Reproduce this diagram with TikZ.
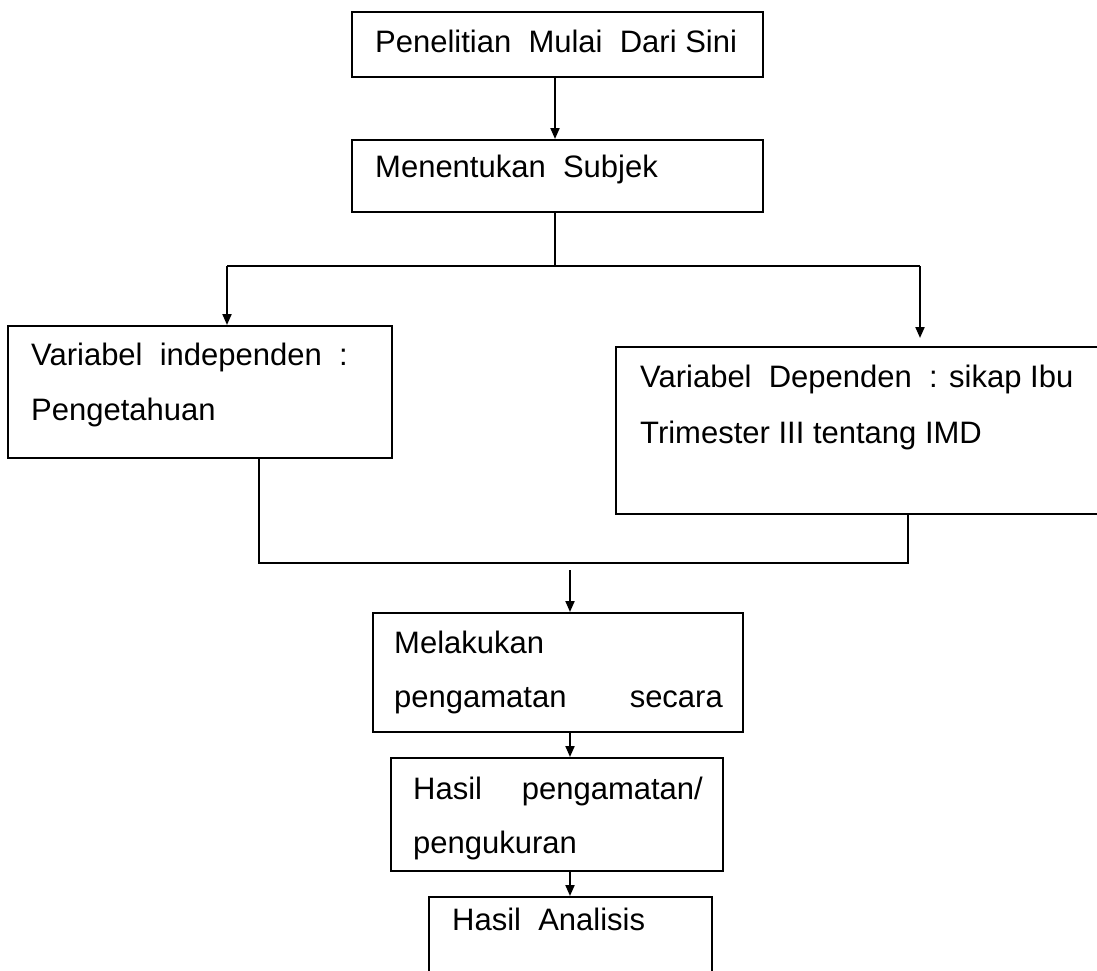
\documentclass[tikz,border=0pt]{standalone}
\usepackage{fontspec}
\setmainfont{Liberation Sans}
\usetikzlibrary{arrows.meta}
\begin{document}
\begin{tikzpicture}[x=1pt,y=-1pt,
  box/.style={draw,line width=2pt,rectangle,inner sep=0pt},
  lbl/.style={anchor=base west,inner sep=0pt,font=\fontsize{31}{31}\selectfont},
  ln/.style={line width=2pt},
  arr/.style={line width=2pt,-{Triangle[length=11pt,width=9pt]}}]
\useasboundingbox (0,0) rectangle (1097,970);
\clip (0,0) rectangle (1097,970);
% boxes
\node[box,minimum width=411pt,minimum height=65pt] (b1) at (557.5,44.5) {};
\node[box,minimum width=411pt,minimum height=72pt] (b2) at (557.5,176) {};
\node[box,minimum width=384pt,minimum height=132pt] (lb) at (200,392) {};
\node[box,minimum width=500pt,minimum height=167pt] (rb) at (866,430.5) {};
\node[box,minimum width=370pt,minimum height=119pt] (b4) at (558,672.5) {};
\node[box,minimum width=332pt,minimum height=113pt] (b5) at (557,814.5) {};
\node[box,minimum width=283pt,minimum height=140pt] (b6) at (570.5,967) {};
% texts
\node[lbl] (t1) at (375,52) {Penelitian\ \ Mulai\ \ Dari Sini};
\node[lbl] (t2) at (375,177) {Menentukan\ \ Subjek};
\node[lbl] (t3a) at (31,365) {Variabel\ \ independen\ \ :};
\node[lbl] (t3b) at (31,420) {Pengetahuan};
\node[lbl] (t4a) at (640,387) {Variabel\ \ Dependen\ \ : sikap Ibu};
\node[lbl] (t4b) at (640,443) {Trimester III tentang IMD};
\node[lbl] (t5a) at (394,653) {Melakukan};
\node[lbl] (t5b) at (394,707) {pengamatan};
\node[lbl,anchor=base east] (t5c) at (723,707) {secara};
\node[lbl] (t6a) at (413,799) {Hasil};
\node[lbl,anchor=base east] (t6b) at (703,799) {pengamatan/};
\node[lbl] (t6c) at (413,853) {pengukuran};
\node[lbl] (t7) at (452,930) {Hasil\ \ Analisis};
% junction coordinates
\coordinate (j1) at (555,266);
\coordinate (jl) at (227,266);
\coordinate (jr) at (920,266);
\coordinate (jre) at (920,338);
\coordinate (ml) at (259,563);
\coordinate (mr) at (908,563);
\coordinate (ma) at (570,570);
% connectors
\draw[arr] (b1.south -| j1) -- (b2.north -| j1);
\draw[ln] (b2.south -| j1) -- (j1);
\draw[ln] (jl) -- (jr);
\draw[arr] (jl) -- (jl |- lb.north);
\draw[arr] (jr) -- (jre);
\draw[ln] (lb.south -| ml) -- (ml) -- (mr) -- (rb.south -| mr);
\draw[arr] (ma) -- (ma |- b4.north);
\draw[arr] (b4.south -| ma) -- (b5.north -| ma);
\draw[arr] (b5.south -| ma) -- (b6.north -| ma);
\end{tikzpicture}
\end{document}
